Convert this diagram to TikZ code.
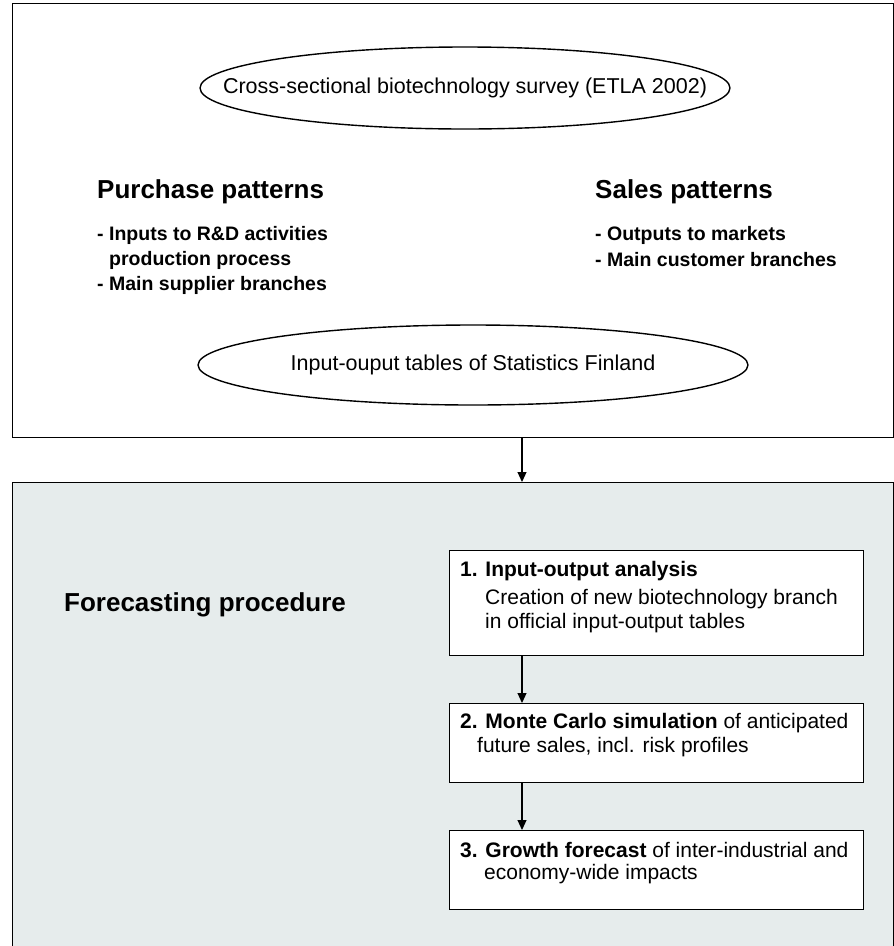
\documentclass[tikz,border=0pt]{standalone}
\usepackage{fontspec}
\setmainfont{Liberation Sans}
\usetikzlibrary{shapes.geometric,arrows.meta}
\definecolor{panelgray}{HTML}{E6ECEC}
\tikzset{
  frame/.style={draw=black, line width=1.4pt, anchor=north west, inner sep=0pt},
  oval/.style={draw=black, ellipse, line width=1.4pt, inner sep=0pt},
  ovaltxt/.style={inner sep=0pt, font=\fontsize{21.5}{24}\selectfont},
  head/.style={anchor=west, inner sep=0pt, font=\fontsize{26}{30}\bfseries\selectfont},
  item/.style={anchor=west, inner sep=0pt, font=\fontsize{19.5}{22}\bfseries\selectfont},
  stepbox/.style={draw=black, fill=white, line width=1.3pt, anchor=north west, inner sep=0pt, minimum width=414pt},
  boxtxt/.style={anchor=west, inner sep=0pt, font=\fontsize{21}{24}\selectfont},
  arr/.style={line width=1.1pt, -{Triangle[length=10pt,width=9pt]}}
}
\begin{document}
\begin{tikzpicture}[x=1pt,y=-1pt]
\useasboundingbox (0,0) rectangle (894,946);
% top panel
\node[frame, minimum width=881pt, minimum height=434pt] (top) at (12,3) {};
\node[oval, minimum width=530pt, minimum height=82pt] (survey) at (465,88) {};
\node[ovaltxt] (surveytxt) at (survey.center) {Cross-sectional biotechnology survey (ETLA 2002)};
\node[head] (purch) at (97,192) {Purchase patterns};
\node[item] (p1) at (97,235) {- Inputs to R\&D activities};
\node[item] (p2) at (109,260) {production process};
\node[item] (p3) at (97,285) {- Main supplier branches};
\node[head] (sales) at (595,192) {Sales patterns};
\node[item] (s1) at (595,235) {- Outputs to markets};
\node[item] (s2) at (595,260) {- Main customer branches};
\node[oval, minimum width=550pt, minimum height=80pt] (io) at (473,365) {};
\node[ovaltxt] (iotxt) at (io.center) {Input-ouput tables of Statistics Finland};
% bottom panel
\begin{scope}
\clip (0,0) rectangle (894,946);
\node[frame, fill=panelgray, minimum width=881pt, minimum height=500pt] (bot) at (12,482) {};
\end{scope}
\coordinate (ax) at (522,0);
\draw[arr] (top.south -| ax) -- (bot.north -| ax);
\node[head] (fore) at (64,605) {Forecasting procedure};
% step 1
\node[stepbox, minimum height=105pt] (b1) at (449,550) {};
\node[boxtxt] (b1a) at (460,571) {\textbf{1. Input-output analysis}};
\node[boxtxt] (b1b) at (485,599) {Creation of new biotechnology branch};
\node[boxtxt] (b1c) at (485,623) {in official input-output tables};
% step 2
\node[stepbox, minimum height=79pt] (b2) at (449,703) {};
\node[boxtxt] (b2a) at (460,723) {\textbf{2. Monte Carlo simulation} of anticipated};
\node[boxtxt] (b2b) at (477,747) {future sales, incl. risk profiles};
% step 3
\node[stepbox, minimum height=79pt] (b3) at (449,830) {};
\node[boxtxt] (b3a) at (460,850) {\textbf{3. Growth forecast} of inter-industrial and};
\node[boxtxt] (b3b) at (484,874) {economy-wide impacts};
\draw[arr] (b1.south -| ax) -- (b2.north -| ax);
\draw[arr] (b2.south -| ax) -- (b3.north -| ax);
\end{tikzpicture}
\end{document}
